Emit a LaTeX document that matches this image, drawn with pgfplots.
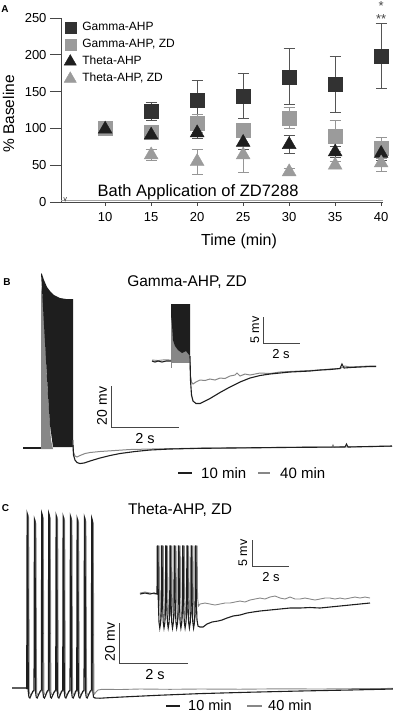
\documentclass[border=0pt]{standalone}
\usepackage{fontspec}
\setmainfont{Liberation Sans}
\usepackage{pgfplots}
\pgfplotsset{compat=1.18}
\definecolor{dk}{RGB}{30,30,30}
\definecolor{gr}{RGB}{135,135,135}
\definecolor{sqdk}{RGB}{50,50,50}
\definecolor{sqgr}{RGB}{155,155,155}
\definecolor{ebdk}{RGB}{85,85,85}
\definecolor{ebgr}{RGB}{150,150,150}
\definecolor{axc}{RGB}{70,70,70}
\begin{document}
\begin{tikzpicture}
\path[use as bounding box] (0pt,0pt) rectangle (393pt,-713pt);
% ---------------- Panel A ----------------
\begin{axis}[
 at={(61pt,-202pt)}, anchor=south west, scale only axis,
 width=322pt, height=184pt,
 xmin=5.2, xmax=40.2, ymin=0, ymax=250,
 axis x line*=bottom, axis y line*=left,
 axis line style={axc, line width=0.9pt, -},
 xtick={10,15,...,40}, ytick={0,50,...,250},
 tick align=outside, major tick length=11pt,
 ytick style={axc, line width=0.9pt},
 xtick style={draw=none},
 xticklabel style={yshift=4pt},
 tick label style={font=\fontsize{13}{13}\selectfont},
 /pgf/number format/assume math mode=true,
 clip=false,
 legend cell align=left,
 legend style={at={(axis description cs:0,1)}, anchor=north west, draw=none, fill=none,
   xshift=3pt, yshift=-3pt, inner sep=0pt,
   font=\fontsize{12}{12}\selectfont, row sep=3.7pt, column sep=6pt,
   nodes={inner sep=0pt, text height=9.5pt, text depth=3.5pt}},
]
\addlegendimage{only marks, mark=square*, mark size=5.5pt, color=sqdk}
\addlegendentry{Gamma-AHP}
\addlegendimage{only marks, mark=square*, mark size=5.5pt, color=sqgr}
\addlegendentry{Gamma-AHP, ZD}
\addlegendimage{only marks, mark=triangle*, mark size=7pt, color=dk}
\addlegendentry{Theta-AHP}
\addlegendimage{only marks, mark=triangle*, mark size=7pt, color=sqgr}
\addlegendentry{Theta-AHP, ZD}
% x ticks (short)
\pgfplotsinvokeforeach{10,15,20,25,30,35,40}{\draw[axc, line width=0.9pt] (axis cs:#1,0) -- ++(0pt,-4pt);}
% bath application line
\draw[gray!70, line width=0.8pt] (axis cs:5.2,2.2) -- (axis cs:40.2,2.2);
\draw[axc, line width=0.6pt] (axis cs:5.5,6.5) -- (axis cs:5.65,1.5) -- (axis cs:5.8,6.5);
\node[anchor=base, font=\fontsize{16.5}{16.5}\selectfont] at (axis cs:20.1,7) {Bath Application of ZD7288};
% Gamma-AHP
\addplot[forget plot, only marks, mark=square*, mark size=7pt, color=sqdk,
  error bars/.cd, y dir=both, y explicit,
  error bar style={ebdk, line width=1pt},
  error mark options={rotate=90, mark size=5.5pt, ebdk, line width=1pt}]
 table[x=x, y=y, y error plus=ep, y error minus=em] {
 x y ep em
 10 100 0 0
 15 123 12 12
 20 138 27 27
 25 144 30 30
 30 170 38 38
 35 160 38 38
 40 198 44 44
};
% Gamma-AHP, ZD
\addplot[forget plot, only marks, mark=square*, mark size=7pt, color=sqgr,
  error bars/.cd, y dir=both, y explicit,
  error bar style={ebgr, line width=1pt},
  error mark options={rotate=90, mark size=5.5pt, ebgr, line width=1pt}]
 table[x=x, y=y, y error plus=ep, y error minus=em] {
 x y ep em
 10 100 0 0
 15 95 8 8
 20 107 12 12
 25 97 10 10
 30 114 14 14
 35 90 21 21
 40 73 14 14
};
% Theta-AHP
\addplot[forget plot, only marks, mark=triangle*, mark size=8pt, color=dk,
  error bars/.cd, y dir=both, y explicit,
  error bar style={ebdk, line width=1pt},
  error mark options={rotate=90, mark size=5.5pt, ebdk, line width=1pt}]
 table[x=x, y=y, y error plus=ep, y error minus=em] {
 x y ep em
 10 99 0 0
 15 91 5 5
 20 94 8 8
 25 81 10 10
 30 78 12 12
 35 68 8 8
 40 66 10 10
};
% Theta-AHP, ZD
\addplot[forget plot, only marks, mark=triangle*, mark size=8pt, color=sqgr,
  error bars/.cd, y dir=both, y explicit,
  error bar style={ebgr, line width=1pt},
  error mark options={rotate=90, mark size=5.5pt, ebgr, line width=1pt}]
 table[x=x, y=y, y error plus=ep, y error minus=em] {
 x y ep em
 15 64 8 8
 20 55 17 17
 25 64 24 24
 30 41 5 5
 35 50 5 5
 40 53 12 12
};
\node[font=\fontsize{13}{13}\selectfont, text=axc] at (axis cs:40,266) {*};
\node[font=\fontsize{13}{13}\selectfont, text=axc] at (axis cs:40,249) {**};
\node[rotate=90, font=\fontsize{15.5}{15.5}\selectfont] at (axis description cs:-0.163,0.478) {\% Baseline};
\node[font=\fontsize{16}{16}\selectfont] at (axis description cs:0.553,-0.212) {Time (min)};
\end{axis}
\node[font=\bfseries\fontsize{10}{10}\selectfont] at (5pt,-9pt) {A};
% ---------------- Panels B and C (pixel frame) ----------------
\begin{axis}[
 at={(0pt,-713pt)}, anchor=south west, scale only axis,
 width=393pt, height=493pt,
 xmin=0, xmax=393, ymin=220, ymax=713, y dir=reverse,
 hide axis, clip=false,
]
% ===== B main =====
\addplot[fill=gr, draw=none] coordinates {(41,449) (41,285) (43,300) (45,335) (47,380) (49,410) (51,440) (53,449)};
\addplot[fill=dk, draw=none] coordinates {(41,273) (42,274) (44,280) (47,287) (50,291) (54,295) (60,298) (66,299) (73,299) (73,447) (53,447) (50,425) (48,395) (46,360) (44,325) (42.5,298)};
\addplot[gr, line width=1pt] coordinates {(73,440) (73.5,452) (75,456) (77,457) (80,455.5) (85,453.5) (90,452.5) (100,451.5) (115,450.5) (130,449.5) (160,448.8) (200,448.2) (250,447.7) (300,447.2) (332,447) (333,445) (334,447) (392,446.3)};
\addplot[dk, line width=1.1pt] coordinates {(23,448) (41,448)};
\addplot[dk, line width=1.1pt] coordinates {(73,445) (73.5,455) (75,460) (77,462.5) (80,463.5) (84,463) (90,461) (100,458) (110,455.5) (120,453.5) (135,451.5) (150,450) (170,449) (200,448.3) (250,447.8) (300,447.3) (345,447) (346.5,444) (348,447) (392,446)};
% scale bar B main
\draw[axc, line width=0.9pt] (axis cs:111,386) -- (axis cs:111,427) -- (axis cs:179,427);
\node[rotate=90, font=\fontsize{14}{14}\selectfont] at (axis cs:102,406) {20 mv};
\node[font=\fontsize{14.5}{14.5}\selectfont] at (axis cs:145,438) {2 s};
% ===== B inset =====
\addplot[gr, line width=0.9pt] coordinates {(152,360) (158,360.5) (164,359.8) (171,360)};
\addplot[gr, line width=0.6pt] coordinates {(171,360) (171,368)};
\addplot[fill=gr, draw=none] coordinates {(171,304) (190,304) (190,363) (171,363)};
\addplot[fill=dk, draw=none] coordinates {(171,304) (190,304) (190,356) (186,351) (182,353) (178,350) (175,346) (173,340) (172,325) (171,315)};
\addplot[gr, line width=1pt] coordinates {(190,362) (190.5,376) (191.5,382) (193,384) (196,382) (200,380) (205,380.5) (210,379) (215,380) (220,378) (225,378.5) (230,376) (235,375) (237,373) (240,376) (245,374) (250,375) (255,374) (260,373) (270,373.5) (280,372) (290,371.5) (300,371) (310,370.5) (320,370) (330,369) (340,368.5) (345,366) (350,367) (360,366.5) (370,366) (376,366)};
\addplot[dk, line width=1.1pt] coordinates {(152,361) (155,362) (158,361) (162,362) (166,361) (171,361)};
\addplot[dk, line width=1.1pt] coordinates {(190,356) (190.5,380) (191.5,395) (193,401) (196,403.5) (200,403.5) (205,401) (210,398.5) (215,395.5) (220,392.5) (230,387) (240,382) (250,378) (260,375.5) (270,374) (280,373) (290,372) (300,371.5) (310,371) (320,370) (330,369.5) (340,368.5) (342,364) (344,368) (350,367.5) (360,367) (370,366.5) (376,366.5)};
\draw[axc, line width=0.9pt] (axis cs:263,317) -- (axis cs:263,343) -- (axis cs:300,343);
\node[rotate=90, font=\fontsize{12.5}{12.5}\selectfont] at (axis cs:255,330) {5 mv};
\node[font=\fontsize{13}{13}\selectfont] at (axis cs:281,354) {2 s};
% title, letter, legend B
\node[font=\fontsize{15.5}{15.5}\selectfont] at (axis cs:187,282) {Gamma-AHP, ZD};
\node[font=\bfseries\fontsize{10}{10}\selectfont] at (axis cs:7,282) {B};
\draw[dk, line width=1.2pt] (axis cs:178,473) -- (axis cs:192,473);
\node[anchor=west, font=\fontsize{15}{15}\selectfont, inner sep=0pt] at (axis cs:201,473) {10 min};
\draw[gr, line width=1.2pt] (axis cs:258,473) -- (axis cs:270,473);
\node[anchor=west, font=\fontsize{15}{15}\selectfont, inner sep=0pt] at (axis cs:280,473) {40 min};
% ===== C main =====
\addplot[gr, line width=0.9pt] coordinates {
 (12,688) (27.7,688)
 (27.7,689) (28.1,516) (28.7,518) (29.3,692) (29.9,694) (30.9,695) (32.2,693) (33.7,691)
 (35,691) (35.4,522) (36,524) (36.6,692) (37.2,694) (38.2,695) (39.5,693) (41,691)
 (42.3,691) (42.7,516) (43.3,518) (43.9,692) (44.5,694) (45.5,695) (46.8,693) (48,691)
 (49.3,691) (49.7,516) (50.3,518) (50.9,692) (51.5,694) (52.5,695) (53.8,693) (55.4,691)
 (56.7,691) (57.1,518) (57.7,520) (58.3,692) (58.9,694) (59.9,695) (61.2,693) (62.4,691)
 (63.7,691) (64.1,519) (64.7,521) (65.3,692) (65.9,694) (66.9,695) (68.2,693) (69.7,691)
 (71,691) (71.4,519) (72,521) (72.6,692) (73.2,694) (74.2,695) (75.5,693) (76.4,691)
 (77.7,691) (78.1,521) (78.7,523) (79.3,692) (79.9,694) (80.9,695) (82.2,693) (83.7,691)
 (85,691) (85.4,520) (86,522) (86.6,692) (87.2,694) (88.2,695) (89.5,693) (91,691)
 (92.3,691) (92.7,521) (93.3,523) (93.9,692) (94.5,694) (96,692) (98,690) (102,689.3) (120,689.5) (140,689) (170,689.3) (200,689) (240,689.2) (280,688.8) (320,689) (360,688.6) (393,688.4)};
\addplot[dk, line width=1.1pt] coordinates {
 (12,688) (26.7,688)
 (26.7,689) (27.1,513) (27.7,515) (28.3,692) (28.9,697) (29.9,698) (31.2,695) (32.7,691.5)
 (34,690) (34.4,519) (35,521) (35.6,692) (36.2,697) (37.2,698) (38.5,695) (40,691.5)
 (41.3,690) (41.7,513) (42.3,515) (42.9,692) (43.5,697) (44.5,698) (45.8,695) (47,691.5)
 (48.3,690) (48.7,513) (49.3,515) (49.9,692) (50.5,697) (51.5,698) (52.8,695) (54.4,691.5)
 (55.7,690) (56.1,515) (56.7,517) (57.3,692) (57.9,697) (58.9,698) (60.2,695) (61.4,691.5)
 (62.7,690) (63.1,516) (63.7,518) (64.3,692) (64.9,697) (65.9,698) (67.2,695) (68.7,691.5)
 (70,690) (70.4,516) (71,518) (71.6,692) (72.2,697) (73.2,698) (74.5,695) (75.4,691.5)
 (76.7,690) (77.1,518) (77.7,520) (78.3,692) (78.9,697) (79.9,698) (81.2,695) (82.7,691.5)
 (84,690) (84.4,517) (85,519) (85.6,692) (86.2,697) (87.2,698) (88.5,695) (90,691.5)
 (91.3,690) (91.7,518) (92.3,520) (92.9,692) (93.5,697) (95,698) (100,698.2) (110,697.6) (130,696.6) (160,695.2) (200,693.6) (250,692.2) (300,691) (350,690) (393,689)};
\draw[axc, line width=0.9pt] (axis cs:119,623) -- (axis cs:119,663) -- (axis cs:188,663);
\node[rotate=90, font=\fontsize{14}{14}\selectfont] at (axis cs:110,642) {20 mv};
\node[font=\fontsize{14.5}{14.5}\selectfont] at (axis cs:155,674) {2 s};
% ===== C inset =====
\addplot[gr, line width=0.9pt] coordinates {
 (140,593) (145,592) (150,593) (155,594) (158.3,593)
 (158.6,546) (159.1,546) (159.6,598) (160.3,614) (161.1,618) (161.9,614) (162.5,606)
 (162.8,546) (163.3,546) (163.8,598) (164.5,614) (165.3,618) (166.1,614) (166.7,606)
 (167.0,546) (167.5,546) (168.0,598) (168.7,614) (169.5,618) (170.3,614) (171.0,606)
 (171.3,546) (171.8,546) (172.3,598) (173.0,614) (173.8,618) (174.6,614) (175.2,606)
 (175.5,546) (176.0,546) (176.5,598) (177.2,614) (178.0,618) (178.8,614) (179.4,606)
 (179.7,546) (180.2,546) (180.7,598) (181.4,614) (182.2,618) (183.0,614) (183.6,606)
 (183.9,546) (184.4,546) (184.9,598) (185.6,614) (186.4,618) (187.2,614) (187.9,606)
 (188.2,546) (188.7,546) (189.2,598) (189.9,614) (190.7,618) (191.5,614) (192.1,606)
 (192.4,546) (192.9,546) (193.4,598) (194.1,614) (194.9,618) (195.7,614) (196.3,606)
 (196.6,546) (197.1,546) (197.6,598) (198.5,606) (200,604) (205,603) (210,604) (215,605) (220,604) (225,603) (230,603) (235,602) (240,601) (245,602) (250,600) (255,599) (260,598) (265,599) (270,597) (275,596) (280,598) (285,599) (290,597) (295,599) (300,599) (305,598) (310,599) (315,600) (320,599) (325,598) (330,598) (335,599) (340,598) (345,599) (350,598) (355,597) (360,598) (365,597) (370,598)};
\addplot[dk, line width=1.1pt] coordinates {
 (140,594) (145,593) (150,594) (154,593) (157,594)
 (157.3,546) (157.8,546) (158.3,600) (159.0,622) (159.8,628) (160.6,623) (161.2,612)
 (161.5,546) (162.0,546) (162.5,600) (163.2,622) (164.0,628) (164.8,623) (165.4,612)
 (165.7,546) (166.2,546) (166.7,600) (167.4,622) (168.2,628) (169.0,623) (169.7,612)
 (170.0,546) (170.5,546) (171.0,600) (171.7,622) (172.5,628) (173.3,623) (173.9,612)
 (174.2,546) (174.7,546) (175.2,600) (175.9,622) (176.7,628) (177.5,623) (178.1,612)
 (178.4,546) (178.9,546) (179.4,600) (180.1,622) (180.9,628) (181.7,623) (182.3,612)
 (182.6,546) (183.1,546) (183.6,600) (184.3,622) (185.1,628) (185.9,623) (186.6,612)
 (186.9,546) (187.4,546) (187.9,600) (188.6,622) (189.4,628) (190.2,623) (190.8,612)
 (191.1,546) (191.6,546) (192.1,600) (192.8,622) (193.6,628) (194.4,623) (195.0,612)
 (195.3,546) (195.8,546) (196.3,600) (197,620) (198,626) (200,627) (203,627) (207,624) (212,622) (218,621) (222,620) (227,618) (233,616) (240,615) (247,613) (253,612) (260,611) (270,610) (280,609) (290,608) (300,608) (310,607.5) (320,608) (330,607) (340,606) (350,605) (360,604) (370,603)};
\draw[axc, line width=0.9pt] (axis cs:252,540) -- (axis cs:252,566) -- (axis cs:289,566);
\node[rotate=90, font=\fontsize{12.5}{12.5}\selectfont] at (axis cs:243,553) {5 mv};
\node[font=\fontsize{13}{13}\selectfont] at (axis cs:271,577) {2 s};
\node[font=\fontsize{15.5}{15.5}\selectfont] at (axis cs:180,510) {Theta-AHP, ZD};
\node[font=\bfseries\fontsize{10}{10}\selectfont] at (axis cs:5.5,508) {C};
\draw[dk, line width=1.2pt] (axis cs:166,706) -- (axis cs:180,706);
\node[anchor=west, font=\fontsize{14.5}{14.5}\selectfont, inner sep=0pt] at (axis cs:188,705.5) {10 min};
\draw[gr, line width=1.2pt] (axis cs:247,706) -- (axis cs:262,706);
\node[anchor=west, font=\fontsize{14.5}{14.5}\selectfont, inner sep=0pt] at (axis cs:268,705.5) {40 min};
\end{axis}
\end{tikzpicture}
\end{document}
